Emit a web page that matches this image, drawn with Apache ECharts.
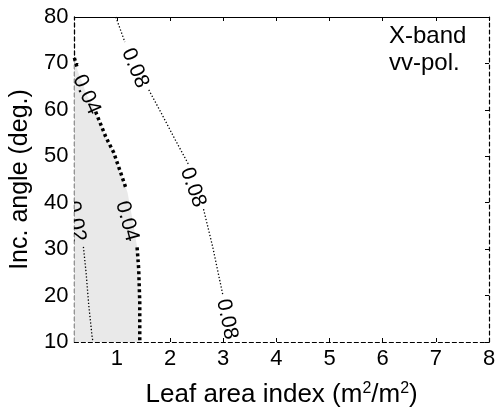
<!DOCTYPE html>
<html>
<head>
<meta charset="utf-8">
<script src="https://cdn.jsdelivr.net/npm/echarts@6/dist/echarts.min.js"></script>
<style>
html,body{margin:0;padding:0;background:#fff;}
#chart{width:502px;height:414px;}
</style>
</head>
<body>
<div id="chart"></div>
<script>
// ---- data ----
const xTickValues = [1, 2, 3, 4, 5, 6, 7, 8];
const xRange = [0.2, 8];
const yRange = [10, 80];

// 0.04 contour (boundary of shaded region), full path
const contour04 = [[0.2, 71.2], [0.26, 68.5], [0.43, 63.3], [0.60, 59.6], [0.79, 54.2], [0.94, 50.8], [1.07, 46.5], [1.20, 42.2], [1.30, 36.0], [1.38, 30.4], [1.41, 25.7], [1.43, 18.6], [1.43, 10]];
// visible dotted segments (gaps where labels sit)
const contour04Segments = [
  [[0.2, 71.2], [0.25, 69.2]],
  [[0.60, 59.6], [0.79, 54.2], [0.94, 50.8], [1.07, 46.5], [1.18, 42.8]],
  [[1.38, 30.4], [1.41, 25.7], [1.43, 18.6], [1.43, 10]]
];
const contour02Segments = [
  [[0.37, 30.5], [0.42, 25.0], [0.47, 18.0], [0.53, 11.5], [0.55, 10]]
];
const contour08Segments = [
  [[0.98, 80], [1.15, 74.6]],
  [[1.60, 64.3], [1.83, 59.4], [2.10, 53.5], [2.35, 48.2]],
  [[2.63, 38.6], [2.80, 30.6], [2.99, 20.3]]
];
// contour labels: [x, y, text, angleDeg]
const contourLabels = [
  [1.34, 69.0, '0.08', -67],
  [2.43, 43.3, '0.08', -70],
  [3.07, 14.9, '0.08', -78],
  [0.43, 63.3, '0.04', -66],
  [1.19, 36.0, '0.04', -75],
  [0.22, 36.0, '0.02', -80]
];

const FONT = '"Liberation Sans", Arial, sans-serif';

const chart = echarts.init(document.getElementById('chart'), null, {renderer: 'canvas'});

const series = [];
// shaded region
series.push({
  type: 'custom',
  xAxisIndex: 0, yAxisIndex: 0,
  clip: true,
  silent: true,
  z: 1,
  data: [0],
  renderItem: function (params, api) {
    const pts = [api.coord([xRange[0], yRange[0]])];
    contour04.forEach(p => pts.push(api.coord(p)));
    return {type: 'polygon', shape: {points: pts}, style: {fill: '#e9e9e9', stroke: null}};
  }
});
function addSegs(segs, width, dash) {
  segs.forEach(seg => {
    series.push({
      type: 'line', xAxisIndex: 0, yAxisIndex: 0,
      data: seg, showSymbol: false, symbol: 'none', silent: true, z: 3,
      clip: true,
      lineStyle: {color: '#000', width: width, type: dash, cap: 'butt'}
    });
  });
}
addSegs(contour04Segments, 3.5, [3, 3]);
addSegs(contour02Segments, 1.3, [1.3, 2]);
addSegs(contour08Segments, 1.3, [1.3, 2]);

series.push({
  type: 'custom', xAxisIndex: 0, yAxisIndex: 0, clip: true, silent: true, z: 5,
  data: contourLabels,
  renderItem: function (params, api) {
    const d = contourLabels[params.dataIndex];
    const c = api.coord([d[0], d[1]]);
    return {
      type: 'text', x: c[0], y: c[1], rotation: d[3] * Math.PI / 180,
      style: {text: d[2], font: '21px ' + FONT, fill: '#000', align: 'center', verticalAlign: 'middle'}
    };
  }
});

const option = {
  animation: false,
  backgroundColor: '#fff',
  grid: {left: 74, right: 13, top: 17, bottom: 71, containLabel: false},
  xAxis: [{
    type: 'value', position: 'bottom', min: xRange[0], max: xRange[1],
    name: '{a|Leaf area index (m}{s|2}{a|/m}{s|2}{a|)}', nameLocation: 'middle', nameGap: 38,
    nameTextStyle: {
      fontFamily: FONT, fontSize: 26, color: '#000',
      rich: {
        a: {fontFamily: FONT, fontSize: 26, color: '#000', lineHeight: 30},
        s: {fontFamily: FONT, fontSize: 16, color: '#000', lineHeight: 30, padding: [0, 0, 12, 0]}
      }
    },
    axisLine: {show: true, onZero: false, lineStyle: {color: '#000', width: 1.2, type: [4, 3]}},
    axisTick: {show: true, inside: true, length: 4, customValues: xTickValues, lineStyle: {color: '#000'}},
    axisLabel: {customValues: xTickValues, fontFamily: FONT, fontSize: 22, color: '#000', margin: 6},
    splitLine: {show: false}
  }, {
    type: 'value', position: 'top', min: xRange[0], max: xRange[1],
    axisLine: {show: true, onZero: false, lineStyle: {color: '#000', width: 1}},
    axisTick: {show: true, inside: true, length: 4, customValues: xTickValues, lineStyle: {color: '#000'}},
    axisLabel: {show: false}, splitLine: {show: false}
  }],
  yAxis: [{
    type: 'value', position: 'left', min: yRange[0], max: yRange[1], interval: 10,
    name: 'Inc. angle (deg.)', nameLocation: 'middle', nameGap: 38, nameRotate: 90,
    nameTextStyle: {fontFamily: FONT, fontSize: 25, color: '#000'},
    axisLine: {show: true, onZero: false, lineStyle: {color: '#000', width: 1.3, type: [4, 3]}},
    axisTick: {show: true, inside: true, length: 4, lineStyle: {color: '#000'}},
    axisLabel: {fontFamily: FONT, fontSize: 22, color: '#000', margin: 6},
    splitLine: {show: false}
  }, {
    type: 'value', position: 'right', min: yRange[0], max: yRange[1], interval: 10,
    axisLine: {show: true, onZero: false, lineStyle: {color: '#000', width: 1.2, type: [4, 3]}},
    axisTick: {show: true, inside: true, length: 4, lineStyle: {color: '#000'}},
    axisLabel: {show: false}, splitLine: {show: false}
  }],
  graphic: [{
    type: 'text', left: 389, top: 23, z: 10,
    style: {text: 'X-band\nvv-pol.', font: '24px ' + FONT, fill: '#000', lineHeight: 27}
  }],
  series: series
};
chart.setOption(option);
</script>
</body>
</html>
